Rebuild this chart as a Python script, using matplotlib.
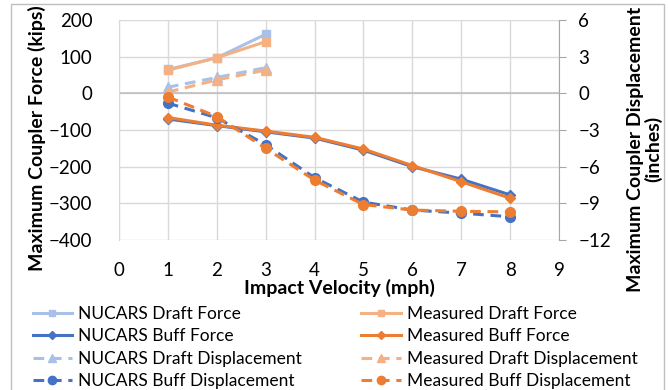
import numpy as np
import matplotlib.pyplot as plt
from matplotlib.lines import Line2D
from matplotlib.patches import Rectangle

plt.rcParams['font.family'] = ['Lato', 'DejaVu Sans']

# ---------------- data ----------------
speed_draft = [1, 2, 3]
speed_buff = [1, 2, 3, 4, 5, 6, 7, 8]

nucars_draft_force = [65, 97, 161]
meas_draft_force = [63, 97, 141]
nucars_buff_force = [-70, -88, -105, -122, -155, -200, -234, -277]
meas_buff_force = [-66, -87, -103, -120, -152, -197, -241, -286]

nucars_draft_disp = [0.5, 1.3, 2.1]
meas_draft_disp = [0.1, 1.1, 1.9]
nucars_buff_disp = [-0.8, -2.0, -4.2, -6.9, -8.9, -9.55, -9.8, -10.1]
meas_buff_disp = [-0.3, -1.9, -4.5, -7.1, -9.1, -9.55, -9.65, -9.7]

labels = ['NUCARS Draft Force', 'NUCARS Buff Force', 'NUCARS Draft Displacement',
          'NUCARS Buff Displacement', 'Measured Draft Force', 'Measured Buff Force',
          'Measured Draft Displacement', 'Measured Buff Displacement']

c_lblue = '#A9C1E8'
c_blue = '#4472C4'
c_lorange = '#F4B183'
c_orange = '#ED7D31'
dash = (0, (3.5, 2.2))

W, H = 668, 390
fig = plt.figure(figsize=(W/100, H/100), dpi=100)
ax = fig.add_axes([119/W, 1-240/H, 440/W, 220/H])
ax2 = ax.twinx()

ax.plot(speed_draft, nucars_draft_force, color=c_lblue, lw=2.2, marker='s', ms=6)
ax.plot(speed_draft, meas_draft_force, color=c_lorange, lw=2.2, marker='s', ms=6)
ax.plot(speed_buff, nucars_buff_force, color=c_blue, lw=2.2, marker='D', ms=5)
ax.plot(speed_buff, meas_buff_force, color=c_orange, lw=2.2, marker='D', ms=5)

ax2.plot(speed_draft, nucars_draft_disp, color=c_lblue, lw=2.2, ls=dash, marker='^', ms=7)
ax2.plot(speed_draft, meas_draft_disp, color=c_lorange, lw=2.2, ls=dash, marker='^', ms=7)
ax2.plot(speed_buff, nucars_buff_disp, color=c_blue, lw=2.2, ls=dash, marker='o', ms=7)
ax2.plot(speed_buff, meas_buff_disp, color=c_orange, lw=2.2, ls=dash, marker='o', ms=7)

ax.set_xlim(0, 9)
ax.set_ylim(-400, 200)
ax2.set_ylim(-12, 6)
ax.set_xticks(range(0, 10))
ax.set_yticks(range(-400, 201, 100))
ax2.set_yticks(range(-12, 7, 3))

ax.grid(True, color='#D9D9D9', lw=1)
ax.axhline(0, color='#BFBFBF', lw=1.2, zorder=1)
ax.set_axisbelow(True)
for a in (ax, ax2):
    for s in ('top', 'bottom', 'left', 'right'):
        a.spines[s].set_visible(False)
ax.spines['left'].set_visible(True)
ax.spines['left'].set_color('#D9D9D9')
ax2.spines['right'].set_visible(True)
ax2.spines['right'].set_color('#A6A6A6')

ax.tick_params(axis='both', length=0, labelsize=13.5)
ax.tick_params(axis='y', pad=19)
ax.tick_params(axis='x', pad=16)
ax2.tick_params(axis='y', length=5, color='#A6A6A6', labelsize=13.5, pad=9)

ax.set_xlabel('Impact Velocity (mph)', fontsize=14, fontweight='bold', labelpad=0)
fig.text(37/W, 1-138/H, 'Maximum Coupler Force (kips)', rotation=90, fontsize=14,
         fontweight='bold', ha='center', va='center')
fig.text(645/W, 1-149/H, 'Maximum Coupler Displacement\n(inches)', rotation=90, fontsize=14,
         fontweight='bold', ha='center', va='center', multialignment='center', linespacing=1.0)

handles = [
    Line2D([], [], color=c_lblue, lw=2.2, marker='s', ms=5),
    Line2D([], [], color=c_blue, lw=2.2, marker='D', ms=4),
    Line2D([], [], color=c_lblue, lw=2.2, ls=dash, marker='^', ms=6),
    Line2D([], [], color=c_blue, lw=2.2, ls=dash, marker='o', ms=6),
    Line2D([], [], color=c_lorange, lw=2.2, marker='s', ms=5),
    Line2D([], [], color=c_orange, lw=2.2, marker='D', ms=4),
    Line2D([], [], color=c_lorange, lw=2.2, ls=dash, marker='^', ms=6),
    Line2D([], [], color=c_orange, lw=2.2, ls=dash, marker='o', ms=6),
]
fig.legend(handles, labels, loc='upper left', bbox_to_anchor=(24/W, 1-297/H),
           ncol=2, frameon=False, fontsize=12.5, handlelength=2.25, handletextpad=0.35,
           columnspacing=3.45, labelspacing=0.38, borderpad=0)

fig.patches.append(Rectangle((11/W, -0.01), 653/W, 1-4/H + 0.01, transform=fig.transFigure,
                             fill=False, edgecolor='#BFBFBF', lw=1))

fig.savefig('out.png', dpi=100)
